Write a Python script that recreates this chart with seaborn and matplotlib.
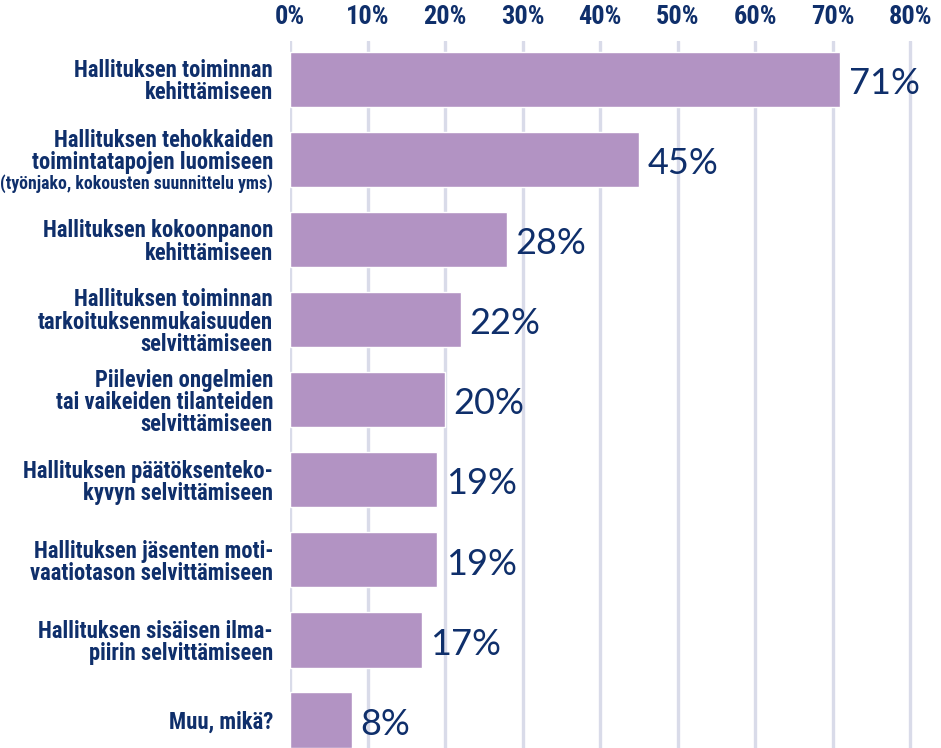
import numpy as np
import pandas as pd
import matplotlib
matplotlib.use("Agg")
import matplotlib.pyplot as plt
import seaborn as sns

# data
labels = [
    "Hallituksen toiminnan\nkehittämiseen",
    "Hallituksen tehokkaiden\ntoimintatapojen luomiseen",
    "Hallituksen kokoonpanon\nkehittämiseen",
    "Hallituksen toiminnan\ntarkoituksenmukaisuuden\nselvittämiseen",
    "Piilevien ongelmien\ntai vaikeiden tilanteiden\nselvittämiseen",
    "Hallituksen päätöksenteko-\nkyvyn selvittämiseen",
    "Hallituksen jäsenten moti-\nvaatiotason selvittämiseen",
    "Hallituksen sisäisen ilma-\npiirin selvittämiseen",
    "Muu, mikä?",
]
sub_labels = ["", "(työnjako, kokousten suunnittelu yms)", "", "", "", "", "", "", ""]
shares = [0.71, 0.45, 0.28, 0.22, 0.20, 0.19, 0.19, 0.17, 0.08]
tick_values = [0.0, 0.1, 0.2, 0.3, 0.4, 0.5, 0.6, 0.7, 0.8]

bar_color = "#b293c3"
navy = "#0f2f6b"
grid_color = "#d9dbe9"

sns.set_style("white")
plt.rcParams['font.family'] = ['Roboto Condensed', 'DejaVu Sans']

df = pd.DataFrame({"label": labels, "share": shares})

fig = plt.figure(figsize=(9.41, 7.48), dpi=100)
ax = fig.add_axes([290 / 941, 0, 624 / 941, 707 / 748])

sns.barplot(data=df, x="share", y="label", orient="h", color=bar_color,
            saturation=1, width=0.69, ax=ax, zorder=3)

ax.set_xlim(0, 0.805)
ax.set_ylim(8.35, -0.48)
ax.set_xticks(tick_values)
ax.set_xticklabels([f"{int(round(v * 100))}%" for v in tick_values])
ax.xaxis.tick_top()
ax.tick_params(axis="x", length=0, pad=9, labelsize=19, labelcolor=navy)
for t in ax.get_xticklabels():
    t.set_fontweight("bold")
ax.grid(axis="x", color=grid_color, linewidth=2.4, zorder=0)
ax.grid(axis="y", visible=False)
for s in ax.spines.values():
    s.set_visible(False)
ax.set_xlabel("")
ax.set_ylabel("")
ax.set_yticks([])

ytrans = ax.get_yaxis_transform()
xoff = -17 / 624
for i, (lab, sub) in enumerate(zip(labels, sub_labels)):
    if sub:
        ax.text(xoff, i - 0.1, lab, transform=ytrans, ha="right", va="center",
                fontsize=16.3, fontweight="bold", color=navy, linespacing=0.95)
        ax.text(xoff, i + 0.3, sub, transform=ytrans, ha="right", va="center",
                fontsize=12.8, fontweight="bold", color=navy)
    else:
        ax.text(xoff, i + 0.03, lab, transform=ytrans, ha="right", va="center",
                fontsize=16.3, fontweight="bold", color=navy, linespacing=0.95)

for i, v in enumerate(shares):
    ax.annotate(f"{int(round(v * 100))}%", xy=(v, i), xytext=(6, -3),
                textcoords="offset points", ha="left", va="center",
                fontsize=26, color=navy, family=["Lato", "DejaVu Sans"],
                annotation_clip=False)

fig.savefig("out.png", dpi=100)
